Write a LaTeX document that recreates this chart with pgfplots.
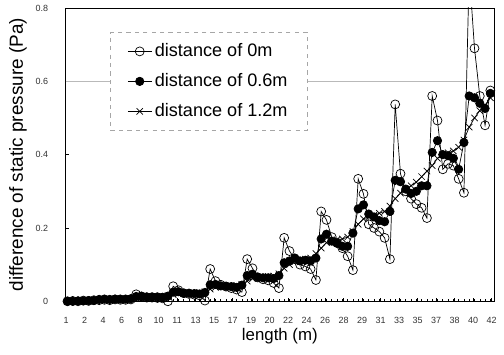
\documentclass[border=0pt]{standalone}
\usepackage{pgfplots}
\pgfplotsset{compat=1.18}
\usepackage{pgfplotstable}
\usepackage{fontspec}
\setmainfont{Liberation Sans}

\pgfplotstableread{
i a b c
0 0.000 0.000 0.000
1 0.001 0.000 0.000
2 0.000 0.001 0.001
3 0.002 0.001 0.001
4 0.001 0.002 0.002
5 0.003 0.002 0.002
6 0.003 0.005 0.004
7 0.004 0.006 0.005
8 0.003 0.005 0.005
9 0.005 0.006 0.006
10 0.004 0.006 0.006
11 0.004 0.006 0.006
12 0.005 0.007 0.007
13 0.019 0.013 0.009
14 0.013 0.014 0.011
15 0.010 0.012 0.012
16 0.010 0.012 0.012
17 0.009 0.012 0.013
18 0.008 0.011 0.013
19 0.000 0.014 0.015
20 0.041 0.025 0.018
21 0.030 0.026 0.021
22 0.022 0.022 0.022
23 0.020 0.022 0.022
24 0.018 0.021 0.023
25 0.016 0.020 0.024
26 0.002 0.024 0.026
27 0.088 0.045 0.033
28 0.055 0.046 0.038
29 0.045 0.042 0.040
30 0.040 0.041 0.041
31 0.036 0.040 0.042
32 0.032 0.038 0.043
33 0.025 0.044 0.046
34 0.115 0.070 0.055
35 0.090 0.074 0.062
36 0.065 0.066 0.065
37 0.060 0.064 0.066
38 0.057 0.064 0.068
39 0.050 0.062 0.069
40 0.036 0.070 0.075
41 0.173 0.105 0.090
42 0.137 0.110 0.100
43 0.115 0.118 0.108
44 0.100 0.110 0.112
45 0.095 0.112 0.115
46 0.088 0.110 0.118
47 0.058 0.118 0.130
48 0.245 0.170 0.145
49 0.222 0.183 0.160
50 0.175 0.164 0.165
51 0.160 0.158 0.168
52 0.145 0.150 0.170
53 0.123 0.150 0.175
54 0.085 0.186 0.190
55 0.334 0.252 0.210
56 0.293 0.263 0.225
57 0.210 0.238 0.230
58 0.200 0.230 0.235
59 0.190 0.220 0.240
60 0.173 0.217 0.245
61 0.115 0.245 0.260
62 0.537 0.330 0.280
63 0.348 0.326 0.295
64 0.300 0.306 0.305
65 0.280 0.294 0.315
66 0.265 0.300 0.325
67 0.255 0.315 0.340
68 0.227 0.315 0.355
69 0.560 0.406 0.370
70 0.493 0.438 0.390
71 0.360 0.400 0.400
72 0.375 0.397 0.405
73 0.370 0.390 0.410
74 0.334 0.360 0.420
75 0.296 0.433 0.440
76 0.900 0.560 0.475
77 0.690 0.555 0.500
78 0.560 0.540 0.520
79 0.480 0.526 0.535
80 0.575 0.567 0.555
}\datatable

\begin{document}
\begin{tikzpicture}
\begin{axis}[
  scale only axis,
  width=305.6pt, height=209.2pt,
  xmin=-0.35, xmax=80.7, ymin=0, ymax=0.8,
  xtick={-0.25,3.25,6.75,10.25,13.75,17.25,20.75,24.25,27.75,31.25,34.75,38.25,41.75,45.25,48.75,52.25,55.75,59.25,62.75,66.25,69.75,73.25,76.75,80.25},
  xticklabels={1,2,4,6,8,10,11,13,15,17,19,20,22,24,26,28,29,31,33,35,37,38,40,42},
  minor xtick={0,1,...,80},
  ytick={0,0.2,0.4,0.6,0.8},
  yticklabels={0,0.2,0.4,0.6,0.8},
  tick align=inside, tick pos=left,
  major tick length=2.5pt, minor tick length=1.5pt,
  tick style={black, line width=0.4pt},
  ticklabel style={font=\fontsize{6.4}{7}\selectfont, text=black!80},
  /pgf/number format/assume math mode=true,
  xticklabel style={yshift=-8pt},
  yticklabel style={xshift=-9pt},
  extra y ticks={0.6},
  extra y tick labels={},
  extra y tick style={grid=major, major tick length=0pt, major grid style={gray!55, line width=0.9pt}},
  axis line style={black, line width=0.6pt},
  xlabel={length (m)},
  ylabel={difference of static pressure (Pa)},
  xlabel style={font=\fontsize{12}{14}\selectfont, at={(axis description cs:0.5,-0.12)}, anchor=center},
  ylabel style={font=\fontsize{13.5}{15}\selectfont, at={(axis description cs:-0.111,0.5)}, anchor=center},
  legend style={at={(axis description cs:0.104,0.918)}, anchor=north west,
    draw=gray!70, dashed, fill=white, line width=0.6pt,
    font=\fontsize{12.9}{15}\selectfont,
    inner xsep=12pt, inner ysep=5.5pt, row sep=5.4pt,
    nodes={inner sep=2pt, text height=9.5pt, text depth=2.5pt, solid}},
  legend image post style={solid},
  legend cell align=left,
]
\addplot[black, line width=0.5pt, mark=o, mark size=3.2pt, mark options={solid}] table[x=i, y=a] {\datatable};
\addlegendentry{distance of 0m}
\addplot[black, line width=0.5pt, mark=*, mark size=3pt, mark options={solid, fill=black}] table[x=i, y=b] {\datatable};
\addlegendentry{distance of 0.6m}
\addplot[black, line width=0.5pt, mark=x, mark size=3.2pt, mark options={solid}] table[x=i, y=c] {\datatable};
\addlegendentry{distance of 1.2m}
\end{axis}
\pgfresetboundingbox
\path ([xshift=-46.8pt,yshift=-37.8pt]current axis.south west) rectangle ([xshift=7.1pt,yshift=5.7pt]current axis.north east);
\end{tikzpicture}
\end{document}
